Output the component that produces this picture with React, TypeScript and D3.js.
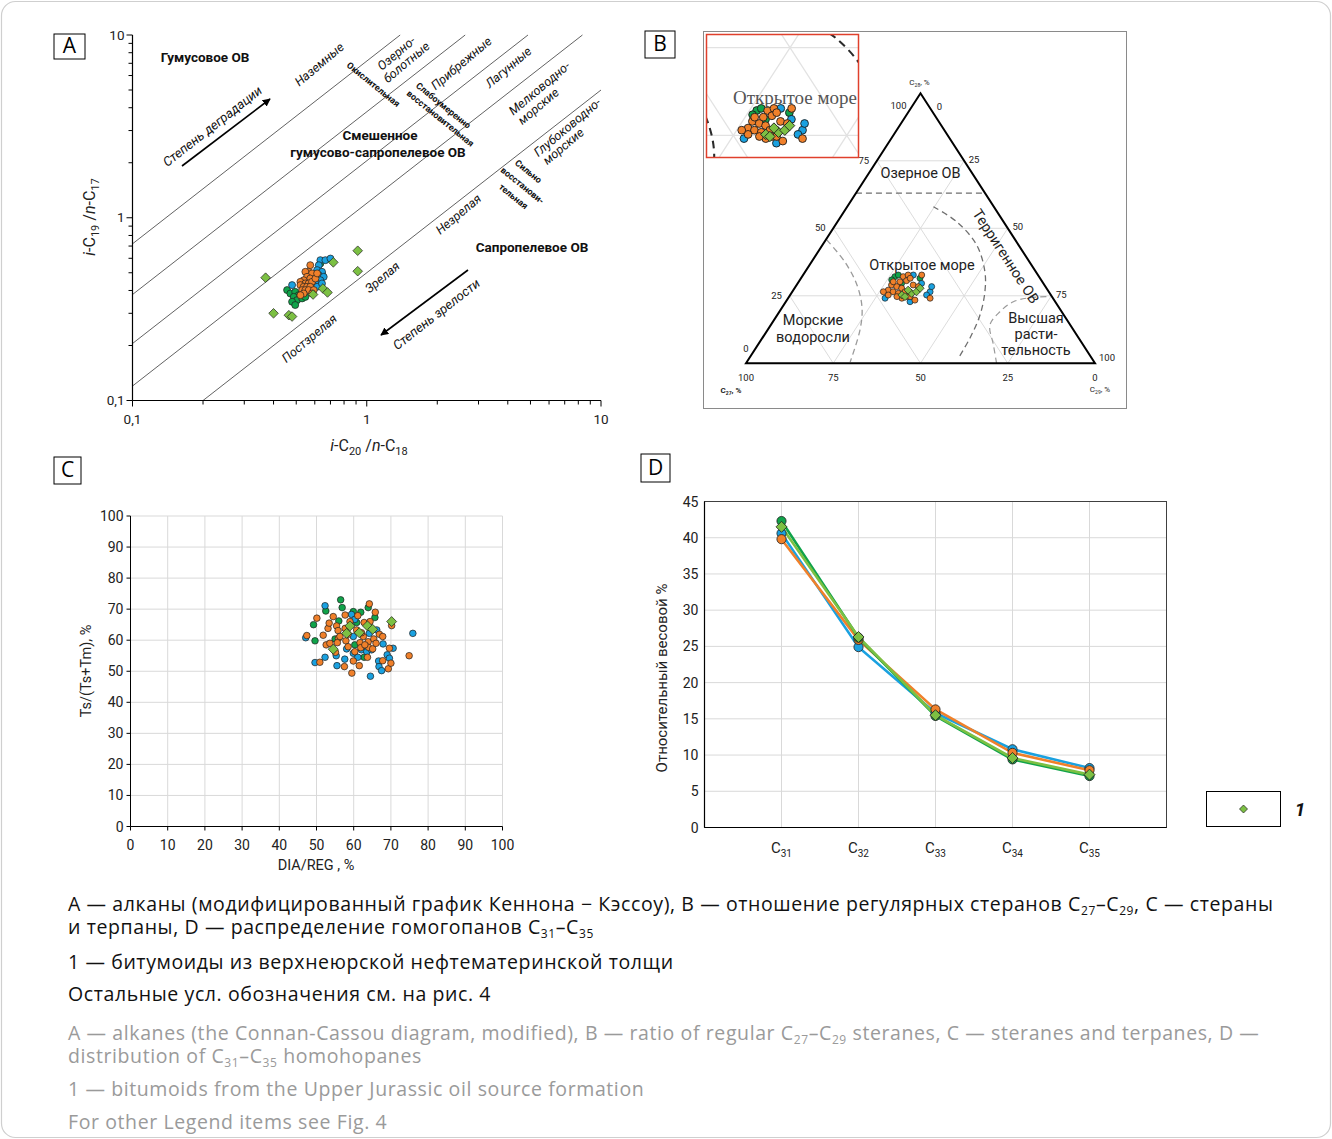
import React from 'react';
import * as d3 from 'd3';

const FONT = 'Roboto, "Noto Sans", Arial, sans-serif';
const CAP = '"Open Sans", "Noto Sans", sans-serif';

const BLUE = '#1aa1e0';
const ORANGE = '#f0802a';
const GREEN = '#10a34a';
const LIME = '#7cc043';
const EDGE = '#1e1e1e';

// ---------- A: i-C19/n-C17 vs i-C20/n-C18 (log-log)
const aRatios = [7.2, 3.8, 2.05, 1.2, 0.5];
const aGreen = [[0.457, 0.402], [0.472, 0.385], [0.495, 0.393], [0.512, 0.377], [0.488, 0.369], [0.504, 0.354], [0.48, 0.347], [0.495, 0.333], [0.53, 0.362], [0.547, 0.369], [0.634, 0.562], [0.644, 0.496]];
const aBlue = [[0.634, 0.586], [0.666, 0.586], [0.7, 0.598], [0.624, 0.55], [0.614, 0.517], [0.644, 0.506], [0.624, 0.485], [0.604, 0.475], [0.655, 0.475], [0.634, 0.455], [0.604, 0.446], [0.584, 0.428], [0.48, 0.428], [0.614, 0.419], [0.644, 0.437]];
const aOrange = [[0.574, 0.55], [0.565, 0.506], [0.547, 0.506], [0.584, 0.496], [0.556, 0.475], [0.574, 0.465], [0.538, 0.455], [0.521, 0.446], [0.547, 0.437], [0.565, 0.437], [0.584, 0.446], [0.521, 0.428], [0.538, 0.419], [0.556, 0.419], [0.574, 0.419], [0.53, 0.402], [0.547, 0.402], [0.565, 0.402], [0.594, 0.402], [0.538, 0.385], [0.584, 0.385], [0.521, 0.377], [0.604, 0.465], [0.614, 0.496]];
const aLime = [[0.37, 0.47], [0.4, 0.3], [0.465, 0.293], [0.48, 0.288], [0.59, 0.38], [0.65, 0.41], [0.68, 0.39], [0.72, 0.57], [0.915, 0.66], [0.915, 0.51]];
const aTickValues = [0.1, 1, 10];
const aTickLabels = ['0,1', '1', '10'];

// ---------- B: ternary C27 / C28 / C29 (%)
const bTicks = [0, 25, 50, 75, 100];
const bGrid = [25, 50, 75];
const bLakeLevel = 63;
const bMarine = [[54, 45.7, 0.3], [52.9, 37.5, 9.6], [53.7, 29, 17.3], [56.5, 20.5, 23], [61.2, 12.3, 26.5], [69.9, 0.5, 29.6]];
const bTerr = [[17.3, 58, 24.7], [13.4, 52.4, 34.2], [12, 43.8, 44.2], [14.6, 33.9, 51.5], [18.3, 26.5, 55.2], [24, 17.9, 58.1], [31.2, 9.3, 59.5], [38.2, 1.9, 59.9]];
const bHigher = [[28.2, 0, 71.8], [25.7, 6.8, 67.5], [23, 14.2, 62.8], [17.7, 19.1, 63.2], [12, 22.8, 65.2], [6.5, 24.3, 69.2], [0.5, 24.7, 74.8]];
const bBlue = [[48.1, 24.1, 27.8], [35.7, 32.7, 31.6], [34, 26.5, 39.5], [32.6, 28.4, 39], [35.6, 25.3, 39.1], [41.6, 22.8, 35.6], [34.9, 29.6, 35.5]];
const bOrange = [[38.9, 32.1, 29], [37.2, 32.7, 30.1], [40.8, 30.2, 29], [38.7, 30.6, 30.7], [43.8, 29, 27.2], [42.6, 28.4, 29], [41.5, 27.8, 30.7], [45.7, 27.1, 27.2], [44.6, 26.5, 28.9], [43.4, 25.9, 30.7], [41.2, 26.5, 32.3], [37.2, 31.5, 31.3], [37.6, 29, 33.4], [36.4, 28.4, 35.2], [41.6, 24.7, 33.7], [43.3, 24.1, 32.6], [44.4, 24.7, 30.9], [40.6, 24.7, 34.7], [33.3, 32.7, 34], [46.6, 25.3, 28.1], [39.9, 23.4, 36.7], [42.7, 30.2, 27.1], [35.2, 24.1, 40.7], [47.4, 26.5, 26.1]];
const bGreen = [[41.3, 32.1, 26.6], [40, 32.7, 27.3], [34.4, 31.5, 34.1], [42.8, 30.9, 26.3], [40.6, 29.6, 29.8]];
const bLime = [[42.7, 25.3, 32], [39.6, 25.9, 34.5], [37.9, 26.5, 35.6], [36.2, 27.8, 36], [40, 27.1, 32.9], [42.1, 24.7, 33.2]];

// ---------- C: Ts/(Ts+Tm) vs DIA/REG
const cTicks = d3.range(0, 101, 10);
const cGreen = [[56.5, 73], [56.9, 70.5], [52.5, 69.4], [49.2, 65], [49.6, 59.8], [59.9, 69.2], [61.9, 69], [63.9, 70.5], [65.7, 67.3], [56, 66.2], [60.8, 65.7], [55, 60.4], [62.8, 54.5], [60.3, 58.5]];
const cBlue = [[52.3, 71.1], [47.1, 60.8], [49.6, 52.8], [52.3, 54.5], [55.3, 55], [55.5, 51.8], [57.6, 53.9], [59.4, 68.3], [60.3, 66.7], [58.1, 57.2], [59.9, 55.8], [61.1, 54.5], [62.1, 56.9], [63.5, 56.3], [64.8, 56.9], [66.7, 53.3], [66.8, 51.5], [67.5, 50.2], [67.9, 58.8], [69, 55.3], [69.6, 54.2], [70.6, 57.4], [64.5, 48.4], [75.9, 62.2], [66.2, 63.3], [64.2, 62.2], [59.9, 61.2]];
const cOrange = [[47.4, 61.5], [50.1, 67.1], [50.9, 52.9], [51.8, 61.6], [52.6, 58.5], [53.1, 63.8], [53.4, 65.5], [53.6, 59], [54.5, 67.6], [55.4, 64.6], [55.8, 63.1], [55.9, 60.6], [55.6, 59.2], [55.1, 56.1], [57.7, 68.1], [57.7, 63.8], [57.9, 59.8], [57.5, 51.5], [59.5, 49.4], [59.9, 53.3], [59, 66], [61.1, 67.9], [61.5, 51.8], [61.7, 59.2], [61.9, 57.6], [62.6, 61.2], [62.8, 65.7], [64.2, 71.7], [64.4, 66], [63.9, 59.5], [64, 57.7], [63.7, 54.5], [65.1, 57.2], [65.4, 60.4], [65.8, 69], [66, 59], [66.9, 61.9], [67.8, 61.2], [67.8, 53.4], [69.3, 50.8], [69.6, 57.4], [70, 52.6], [70.2, 64.7], [74.9, 55], [58.5, 57.9], [60.8, 63.3], [62.1, 62.4], [60.3, 56.3], [63, 58.5], [58.5, 61.9], [56.3, 61.2]];
const cLime = [[54.5, 57.1], [58.1, 62.2], [59, 64.6], [61.5, 62.4], [63.7, 64.6], [65.1, 63.5], [70.2, 66]];

// ---------- D: homohopanes C31-C35
const dCats = ['31', '32', '33', '34', '35'];
const dTicks = d3.range(0, 46, 5);
const dBlue = [40.6, 24.9, 15.8, 10.8, 8.2];
const dOrange = [39.8, 25.9, 16.3, 10.3, 7.9];
const dGreen = [42.3, 26.2, 15.4, 9.4, 7.1];
const dLime = [41.5, 26.3, 15.5, 9.6, 7.3];

const diamond = (x: number, y: number, s: number) => `M${x},${y - s}L${x + s},${y}L${x},${y + s}L${x - s},${y}Z`;

const Dots = ({ pts, fill, r }: { pts: number[][]; fill: string; r: number }) => (
  <g>{pts.map((p, i) => <circle key={i} cx={p[0]} cy={p[1]} r={r} fill={fill} stroke={EDGE} strokeWidth={0.7} />)}</g>
);
const Diamonds = ({ pts, s }: { pts: number[][]; s: number }) => (
  <g>{pts.map((p, i) => <path key={i} d={diamond(p[0], p[1], s)} fill={LIME} stroke={EDGE} strokeWidth={0.7} />)}</g>
);

const LabelBox = ({ x, y, w, h, t }: any) => (
  <g>
    <rect x={x} y={y} width={w} height={h} fill="#fff" stroke="#000" strokeWidth={1} />
    <text x={x + w / 2} y={y + h / 2 + 1} textAnchor="middle" dominantBaseline="middle" fontSize={21} fontFamily={CAP}>{t}</text>
  </g>
);

// ---------------- Panel A
const xA = d3.scaleLog().domain([0.1, 10]).range([132.5, 601]);
const yA = d3.scaleLog().domain([0.1, 10]).range([400.5, 35]);
const aMinor = [0.1, 1].flatMap(d => d3.range(1, 10).map(k => ({ v: d * k, major: k === 1 }))).concat([{ v: 10, major: true }]);

const aNotes = [
  { t: 'Гумусовое ОВ', x: 205, y: 58, w: 'bold', s: 13.5, r: 0 },
  { t: 'Степень деградации', x: 213, y: 127, i: 1, s: 13, r: -38 },
  { t: 'Наземные', x: 320, y: 65, i: 1, s: 12.5, r: -40 },
  { t: 'Окислительная', x: 373, y: 85, w: 'bold', s: 9, r: 39 },
  { t: 'Озерно-', x: 397, y: 54, i: 1, s: 12.5, r: -40 },
  { t: 'болотные', x: 407, y: 63, i: 1, s: 12.5, r: -40 },
  { t: 'Прибрежные', x: 462, y: 64, i: 1, s: 12.5, r: -40 },
  { t: 'Слабоумеренно', x: 443, y: 106, w: 'bold', s: 9, r: 39 },
  { t: 'восстановительная', x: 440, y: 119, w: 'bold', s: 9, r: 39 },
  { t: 'Лагунные', x: 509, y: 68, i: 1, s: 12.5, r: -40 },
  { t: 'Мелководно-', x: 540, y: 89, i: 1, s: 12.5, r: -40 },
  { t: 'морские', x: 539, y: 107, i: 1, s: 12.5, r: -40 },
  { t: 'Смешенное', x: 380, y: 136, w: 'bold', s: 13.5, r: 0 },
  { t: 'гумусово-сапропелевое ОВ', x: 378, y: 153, w: 'bold', s: 13.5, r: 0 },
  { t: 'Глубоководно-', x: 568, y: 128, i: 1, s: 12.5, r: -40 },
  { t: 'морские', x: 564, y: 147, i: 1, s: 12.5, r: -40 },
  { t: 'Сильно', x: 528, y: 172, w: 'bold', s: 9, r: 39 },
  { t: 'восстанови-', x: 522, y: 186, w: 'bold', s: 9, r: 39 },
  { t: 'тельная', x: 513, y: 197, w: 'bold', s: 9, r: 39 },
  { t: 'Незрелая', x: 459, y: 215, i: 1, s: 12.5, r: -40 },
  { t: 'Зрелая', x: 383, y: 278, i: 1, s: 12.5, r: -40 },
  { t: 'Постзрелая', x: 310, y: 339, i: 1, s: 12.5, r: -40 },
  { t: 'Сапропелевое ОВ', x: 532, y: 248, w: 'bold', s: 13.5, r: 0 },
  { t: 'Степень зрелости', x: 437, y: 315, i: 1, s: 13, r: -38 },
];

const PanelA = () => {
  const line = d3.line<number[]>().x(d => xA(d[0])).y(d => yA(d[1]));
  const p = (arr: number[][]) => arr.map(d => [xA(d[0]), yA(d[1])]);
  return (
    <g>
      <LabelBox x={54} y={34} w={31} h={25} t="A" />
      {aRatios.map((r, i) => {
        const x0 = Math.max(0.1, 0.1 / r), x1 = Math.min(10, 10 / r);
        return <path key={i} d={line([[x0, x0 * r], [x1, x1 * r]]) || ''} stroke="#3a3a3a" strokeWidth={0.8} fill="none" />;
      })}
      <line x1={xA(0.1)} x2={xA(0.1)} y1={yA(10)} y2={yA(0.1)} stroke="#000" strokeWidth={1.2} />
      <line x1={xA(0.1)} x2={xA(10)} y1={yA(0.1)} y2={yA(0.1)} stroke="#000" strokeWidth={1.2} />
      {aMinor.map((t, i) => (
        <g key={i}>
          <line x1={xA(0.1)} x2={xA(0.1) - (t.major ? 6 : 4)} y1={yA(t.v)} y2={yA(t.v)} stroke="#000" strokeWidth={1} />
          <line x1={xA(t.v)} x2={xA(t.v)} y1={yA(0.1)} y2={yA(0.1) + (t.major ? 6 : 4)} stroke="#000" strokeWidth={1} />
        </g>
      ))}
      {aTickValues.map((v, i) => (
        <g key={i} fontSize={13.5} fill="#222">
          <text x={xA(0.1) - 8} y={yA(v) + 4.5} textAnchor="end">{aTickLabels[i]}</text>
          <text x={xA(v)} y={yA(0.1) + 23} textAnchor="middle">{aTickLabels[i]}</text>
        </g>
      ))}
      <text transform="translate(95,217) rotate(-90)" textAnchor="middle" fontSize={16} fill="#222">
        <tspan fontStyle="italic">i</tspan>-C<tspan dy={4} fontSize={11}>19</tspan><tspan dy={-4}> /</tspan><tspan fontStyle="italic">n</tspan>-C<tspan dy={4} fontSize={11}>17</tspan>
      </text>
      <text x={369} y={451} textAnchor="middle" fontSize={16} fill="#222">
        <tspan fontStyle="italic">i</tspan>-C<tspan dy={4} fontSize={11}>20</tspan><tspan dy={-4}> /</tspan><tspan fontStyle="italic">n</tspan>-C<tspan dy={4} fontSize={11}>18</tspan>
      </text>
      {aNotes.map((n, i) => (
        <text key={i} x={n.x} y={n.y} textAnchor="middle" dominantBaseline="middle" fontSize={n.s}
          fontWeight={n.w || 'normal'} fontStyle={n.i ? 'italic' : 'normal'} fill="#111"
          transform={n.r ? `rotate(${n.r},${n.x},${n.y})` : undefined}>{n.t}</text>
      ))}
      <line x1={182} y1={166} x2={270} y2={99} stroke="#000" strokeWidth={1.6} markerEnd="url(#arr)" />
      <line x1={468} y1={270} x2={381} y2={335} stroke="#000" strokeWidth={1.6} markerEnd="url(#arr)" />
      <Dots pts={p(aGreen)} fill={GREEN} r={3.5} />
      <Dots pts={p(aBlue)} fill={BLUE} r={3.5} />
      <Dots pts={p(aOrange)} fill={ORANGE} r={3.5} />
      <Diamonds pts={p(aLime)} s={4.8} />
    </g>
  );
};

// ---------------- Panel B (ternary)
const TBL = { x: 746, y: 363.3 }, TAP = { x: 920.5, y: 93.3 }, TBR = { x: 1095, y: 363.3 };
const s28x = d3.scaleLinear().domain([0, 100]).range([0, TAP.x - TBL.x]);
const s29x = d3.scaleLinear().domain([0, 100]).range([0, TBR.x - TBL.x]);
const s28y = d3.scaleLinear().domain([0, 100]).range([TBL.y, TAP.y]);
const tern = (c: number[]) => {
  const s = c[0] + c[1] + c[2];
  const a = (c[1] / s) * 100, b = (c[2] / s) * 100;
  return [TBL.x + s28x(a) + s29x(b), s28y(a)];
};

const TernContent = ({ dark }: { dark: boolean }) => {
  const curve = d3.line<number[]>().x(d => tern(d)[0]).y(d => tern(d)[1]).curve(d3.curveCatmullRom);
  const seg = (a: number[], b: number[]) => { const p = tern(a), q = tern(b); return `M${p[0]},${p[1]}L${q[0]},${q[1]}`; };
  const bnd = dark ? '#2a2a2a' : '#9a9a9a';
  return (
    <g>
      {bGrid.map(v => (
        <g key={v} stroke={dark ? '#e2e2e2' : '#dcdcdc'} strokeWidth={1} fill="none">
          <path d={seg([100 - v, v, 0], [0, v, 100 - v])} />
          <path d={seg([100 - v, 0, v], [0, 100 - v, v])} />
          <path d={seg([v, 0, 100 - v], [v, 100 - v, 0])} />
        </g>
      ))}
      <path d={seg([100 - bLakeLevel, bLakeLevel, 0], [0, bLakeLevel, 100 - bLakeLevel])} stroke={dark ? '#2a2a2a' : '#6e6e6e'} strokeWidth={1.3} strokeDasharray="6,4" fill="none" />
      <path d={curve(bMarine) || ''} stroke={bnd} strokeWidth={dark ? 1.6 : 1.3} strokeDasharray="6,4" fill="none" />
      <path d={curve(bTerr) || ''} stroke={dark ? '#2a2a2a' : '#6e6e6e'} strokeWidth={dark ? 1.6 : 1.3} strokeDasharray="6,4" fill="none" />
      <path d={curve(bHigher) || ''} stroke={bnd} strokeWidth={1.2} strokeDasharray="6,4" fill="none" />
    </g>
  );
};

const TernPoints = () => (
  <g>
    <Dots pts={bGreen.map(tern)} fill={GREEN} r={3} />
    <Dots pts={bBlue.map(tern)} fill={BLUE} r={3} />
    <Dots pts={bOrange.map(tern)} fill={ORANGE} r={3} />
    <Diamonds pts={bLime.map(tern)} s={4} />
  </g>
);

const PanelB = () => {
  const ap = tern([0, 100, 0]), bl = tern([100, 0, 0]), br = tern([0, 0, 100]);
  return (
    <g>
      <rect x={703.5} y={31.5} width={423} height={377} fill="#fff" stroke="#8a8a8a" strokeWidth={1} />
      <LabelBox x={645} y={31} w={30} h={27} t="B" />
      <TernContent dark={false} />
      <path d={`M${bl[0]},${bl[1]}L${ap[0]},${ap[1]}L${br[0]},${br[1]}Z`} fill="none" stroke="#000" strokeWidth={2} strokeLinejoin="miter" />
      <g fontSize={9.5} fill="#222" textAnchor="middle">
        {bTicks.map(v => {
          const l = tern([100 - v, v, 0]), r = tern([0, 100 - v, v]), b = tern([v, 0, 100 - v]);
          const lo = v === 0 ? [0, -11] : v === 100 ? [-22, 16] : [-13, 3];
          const ro = v === 0 ? [19, 17] : v === 100 ? [12, -2] : [10, 2];
          return (
            <g key={v}>
              <text x={l[0] + lo[0]} y={l[1] + lo[1]}>{v}</text>
              <text x={r[0] + ro[0]} y={r[1] + ro[1]}>{v}</text>
              <text x={b[0]} y={b[1] + 18}>{v}</text>
            </g>
          );
        })}
      </g>
      <text x={ap[0] - 1} y={ap[1] - 8} fontSize={8} textAnchor="middle" fill="#222">C<tspan dy={2} fontSize={5}>28</tspan><tspan dy={-2}>, %</tspan></text>
      <text x={bl[0] - 15} y={bl[1] + 30} fontSize={8} fontWeight="bold" textAnchor="middle" fill="#222">C<tspan dy={2} fontSize={5}>27</tspan><tspan dy={-2}>, %</tspan></text>
      <text x={br[0] + 5} y={br[1] + 29} fontSize={8} textAnchor="middle" fill="#222">C<tspan dy={2} fontSize={5}>29</tspan><tspan dy={-2}>, %</tspan></text>
      <g fontSize={14.5} fill="#222" textAnchor="middle">
        <text x={920.5} y={178}>Озерное ОВ</text>
        <text x={922} y={270}>Открытое море</text>
        <text x={813} y={325}>Морские</text>
        <text x={813} y={342}>водоросли</text>
        <text x={1036} y={323}>Высшая</text>
        <text x={1036} y={339}>расти-</text>
        <text x={1036} y={355}>тельность</text>
        <text x={1005} y={257} transform="rotate(57,1005,257)" dominantBaseline="middle">Терригенное ОВ</text>
      </g>
      <TernPoints />
      {/* enlarged inset */}
      <rect x={706.5} y={34.5} width={152} height={123} fill="#fff" />
      <g clipPath="url(#insetClip)">
        <g transform="translate(772.5,124) scale(1.3) translate(-907,-287)">
          <TernContent dark={true} />
          <TernPoints />
        </g>
        <text x={795} y={104} textAnchor="middle" fontSize={19} fontFamily='"Liberation Serif", "DejaVu Serif", serif' fill="#555">Открытое море</text>
      </g>
      <rect x={706.5} y={34.5} width={152} height={123} fill="none" stroke="#e0402c" strokeWidth={1.5} />
    </g>
  );
};

// ---------------- Panel C
const xC = d3.scaleLinear().domain([0, 100]).range([130.5, 502.5]);
const yC = d3.scaleLinear().domain([0, 100]).range([826.5, 516]);

const PanelC = () => {
  const p = (arr: number[][]) => arr.map(d => [xC(d[0]), yC(d[1])]);
  return (
    <g>
      <LabelBox x={54} y={457} w={27} h={27} t="C" />
      {cTicks.filter(t => t > 0).map(t => (
        <g key={t} stroke="#d9d9d9" strokeWidth={1}>
          <line x1={xC(t)} x2={xC(t)} y1={yC(0)} y2={yC(100)} />
          <line x1={xC(0)} x2={xC(100)} y1={yC(t)} y2={yC(t)} />
        </g>
      ))}
      <line x1={xC(0)} x2={xC(0)} y1={yC(0)} y2={yC(100)} stroke="#000" strokeWidth={1} />
      <line x1={xC(0)} x2={xC(100)} y1={yC(0)} y2={yC(0)} stroke="#000" strokeWidth={1} />
      {cTicks.map(t => (
        <g key={t}>
          <line x1={xC(0) - 4} x2={xC(0)} y1={yC(t)} y2={yC(t)} stroke="#000" />
          <line x1={xC(t)} x2={xC(t)} y1={yC(0)} y2={yC(0) + 4} stroke="#000" />
          <text x={xC(0) - 7} y={yC(t) + 5} textAnchor="end" fontSize={14} fill="#222">{t}</text>
          <text x={xC(t)} y={yC(0) + 23} textAnchor="middle" fontSize={14} fill="#222">{t}</text>
        </g>
      ))}
      <text transform="translate(91,671) rotate(-90)" textAnchor="middle" fontSize={14.5} fill="#222">Ts/(Ts+Tm), %</text>
      <text x={316} y={870} textAnchor="middle" fontSize={14.5} fill="#222">DIA/REG , %</text>
      <Dots pts={p(cGreen)} fill={GREEN} r={3.3} />
      <Dots pts={p(cBlue)} fill={BLUE} r={3.3} />
      <Dots pts={p(cOrange)} fill={ORANGE} r={3.3} />
      <Diamonds pts={p(cLime)} s={5} />
    </g>
  );
};

// ---------------- Panel D
const xD = d3.scaleLinear().domain([0, 6]).range([704.5, 1166.5]);
const yD = d3.scaleLinear().domain([0, 45]).range([827.5, 501.5]);

const PanelD = () => {
  const line = d3.line<number>().x((d, i) => xD(i + 1)).y(d => yD(d));
  const series = [
    { v: dBlue, c: BLUE, m: 'c' },
    { v: dOrange, c: ORANGE, m: 'c' },
    { v: dGreen, c: GREEN, m: 'c' },
    { v: dLime, c: LIME, m: 'd' },
  ];
  return (
    <g>
      <LabelBox x={641} y={454} w={29} h={28} t="D" />
      {dTicks.filter(t => t > 0).map(t => (
        <line key={t} x1={xD(0)} x2={xD(6)} y1={yD(t)} y2={yD(t)} stroke="#d9d9d9" />
      ))}
      {dCats.map((c, i) => <line key={c} x1={xD(i + 1)} x2={xD(i + 1)} y1={yD(0)} y2={yD(45)} stroke="#d9d9d9" />)}
      <rect x={xD(0)} y={yD(45)} width={xD(6) - xD(0)} height={yD(0) - yD(45)} fill="none" stroke="#404040" strokeWidth={1} />
      <line x1={xD(0)} x2={xD(0)} y1={yD(0)} y2={yD(45)} stroke="#000" strokeWidth={1.2} />
      <line x1={xD(0)} x2={xD(6)} y1={yD(0)} y2={yD(0)} stroke="#000" strokeWidth={1.2} />
      {dTicks.map(t => (
        <text key={t} x={xD(0) - 6} y={yD(t) + 5} textAnchor="end" fontSize={14} fill="#222">{t}</text>
      ))}
      {dCats.map((c, i) => (
        <text key={c} x={xD(i + 1)} y={853} textAnchor="middle" fontSize={15} fill="#222">C<tspan dy={4} fontSize={10}>{c}</tspan></text>
      ))}
      <text transform="translate(667,678) rotate(-90)" textAnchor="middle" fontSize={15} fill="#222">Относительный весовой %</text>
      {series.map((s, k) => (
        <path key={k} d={line(s.v) || ''} fill="none" stroke={s.c} strokeWidth={2.6} />
      ))}
      {series.map((s, k) => (
        <g key={k}>
          {s.v.map((v, i) => s.m === 'c'
            ? <circle key={i} cx={xD(i + 1)} cy={yD(v)} r={4.6} fill={s.c} stroke={EDGE} strokeWidth={0.8} />
            : <path key={i} d={diamond(xD(i + 1), yD(v), 5.5)} fill={s.c} stroke={EDGE} strokeWidth={0.8} />)}
        </g>
      ))}
      <rect x={1206.5} y={791.5} width={74} height={35} fill="#fff" stroke="#000" strokeWidth={1} />
      <path d={diamond(1243.5, 809, 4)} fill={LIME} stroke={EDGE} strokeWidth={0.7} />
      <text x={1300} y={816} textAnchor="middle" fontSize={19} fontWeight="bold" fontStyle="italic" fill="#111">1</text>
    </g>
  );
};

// ---------------- Caption
const SUB = { dy: 4, fontSize: 12 };

const Caption = () => (
  <g fontFamily={CAP} fontSize={19.5} letterSpacing={0.6}>
    <g fill="#111">
      <text x={68} y={911}>А — алканы (модифицированный график Кеннона − Кэссоу), В — отношение регулярных стеранов C<tspan {...SUB}>27</tspan><tspan dy={-4}>–C</tspan><tspan {...SUB}>29</tspan><tspan dy={-4}>, С — стераны</tspan></text>
      <text x={68} y={934}>и терпаны, D — распределение гомогопанов C<tspan {...SUB}>31</tspan><tspan dy={-4}>–C</tspan><tspan {...SUB}>35</tspan></text>
      <text x={68} y={969}>1 — битумоиды из верхнеюрской нефтематеринской толщи</text>
      <text x={68} y={1001}>Остальные усл. обозначения см. на рис. 4</text>
    </g>
    <g fill="#9a9a9a">
      <text x={68} y={1040}>A — alkanes (the Connan-Cassou diagram, modified), B — ratio of regular C<tspan {...SUB}>27</tspan><tspan dy={-4}>–C</tspan><tspan {...SUB}>29</tspan><tspan dy={-4}> steranes, C — steranes and  terpanes, D —</tspan></text>
      <text x={68} y={1063}>distribution of C<tspan {...SUB}>31</tspan><tspan dy={-4}>–C</tspan><tspan {...SUB}>35</tspan><tspan dy={-4}> homohopanes</tspan></text>
      <text x={68} y={1096}>1 — bitumoids from the Upper Jurassic oil source formation</text>
      <text x={68} y={1129}>For other Legend items see Fig. 4</text>
    </g>
  </g>
);

export default function App() {
  return (
    <div style={{ position: 'absolute', left: 0, top: 0 }}>
      <svg width={1332} height={1139} style={{ display: 'block', background: '#fff' }} fontFamily={FONT}>
        <defs>
          <marker id="arr" viewBox="0 0 10 10" refX="9" refY="5" markerWidth="5" markerHeight="5" orient="auto">
            <path d="M0,0L10,5L0,10Z" fill="#000" />
          </marker>
          <clipPath id="insetClip"><rect x={706.5} y={34.5} width={152} height={123} /></clipPath>
        </defs>
        <rect x={1.5} y={1.5} width={1329} height={1136} rx={14} fill="#fff" stroke="#cfcfcf" strokeWidth={1.2} />
        <PanelA />
        <PanelB />
        <PanelC />
        <PanelD />
        <Caption />
      </svg>
    </div>
  );
}
